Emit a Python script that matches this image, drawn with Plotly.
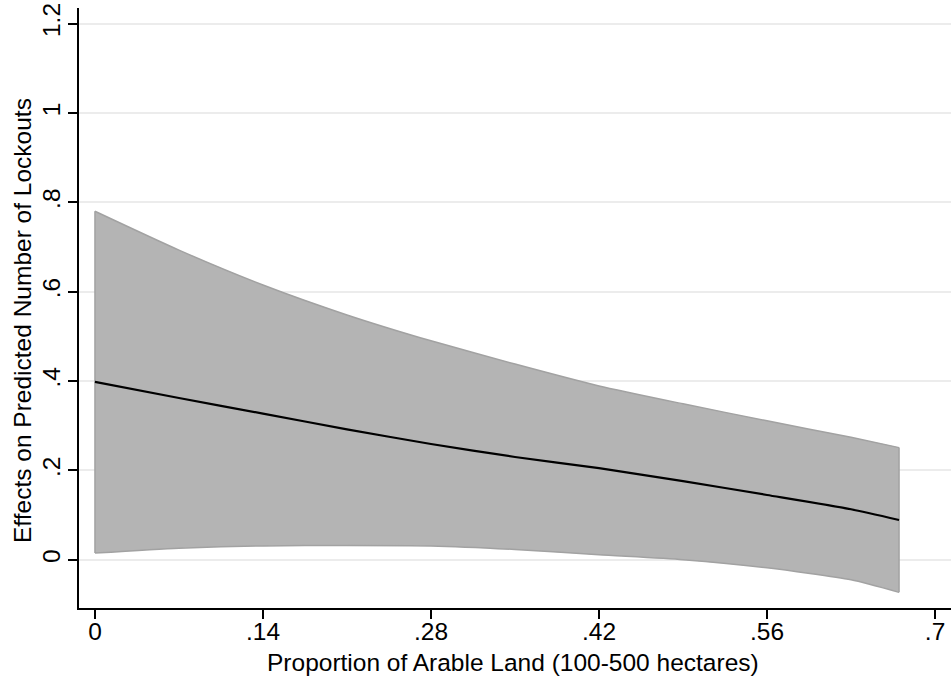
import plotly.graph_objects as go

x_vals = [0.0, 0.07, 0.14, 0.21, 0.28, 0.35, 0.42, 0.49, 0.56, 0.63, 0.67]
upper = [0.780, 0.693, 0.615, 0.548, 0.490, 0.438, 0.389, 0.349, 0.311, 0.274, 0.251]
effect = [0.398, 0.362, 0.327, 0.292, 0.259, 0.230, 0.205, 0.176, 0.145, 0.113, 0.089]
lower = [0.015, 0.026, 0.031, 0.032, 0.031, 0.023, 0.011, 0.000, -0.018, -0.045, -0.073]

x_ticks = [0, 0.14, 0.28, 0.42, 0.56, 0.7]
x_ticklabels = ["0", ".14", ".28", ".42", ".56", ".7"]
y_ticks = [0, 0.2, 0.4, 0.6, 0.8, 1.0, 1.2]
y_ticklabels = ["0", ".2", ".4", ".6", ".8", "1", "1.2"]

x_title = "Proportion of Arable Land (100-500 hectares)"
y_title = "Effects on Predicted Number of Lockouts"

font_family = "Liberation Sans, Arial, Helvetica, sans-serif"
fs = 24.5

fig = go.Figure()
fig.add_trace(go.Scatter(
    x=x_vals, y=lower, mode="lines",
    line=dict(color="#a2a2a2", width=1.5, shape="spline", smoothing=0.6),
    hoverinfo="skip", showlegend=False,
))
fig.add_trace(go.Scatter(
    x=x_vals, y=upper, mode="lines", fill="tonexty", fillcolor="#b4b4b4",
    line=dict(color="#a2a2a2", width=1.5, shape="spline", smoothing=0.6),
    hoverinfo="skip", showlegend=False,
))
fig.add_trace(go.Scatter(
    x=[x_vals[-1], x_vals[-1]], y=[lower[-1], upper[-1]], mode="lines",
    line=dict(color="#a2a2a2", width=1.5),
    hoverinfo="skip", showlegend=False,
))
fig.add_trace(go.Scatter(
    x=[x_vals[0], x_vals[0]], y=[lower[0], upper[0]], mode="lines",
    line=dict(color="#a2a2a2", width=1.5),
    hoverinfo="skip", showlegend=False,
))
fig.add_trace(go.Scatter(
    x=x_vals, y=effect, mode="lines",
    line=dict(color="black", width=2.2, shape="spline", smoothing=0.6),
    showlegend=False,
))

fig.update_layout(
    width=951, height=684,
    margin=dict(l=79, r=0, t=8, b=76),
    paper_bgcolor="white", plot_bgcolor="white",
    font=dict(family=font_family, size=fs, color="black"),
    xaxis=dict(
        range=[-0.0133, 0.7133],
        tickvals=x_ticks, ticktext=x_ticklabels,
        ticks="outside", ticklen=9, tickwidth=1.5, tickcolor="black",
        ticklabelstandoff=-8,
        showline=True, linecolor="black", linewidth=1.5,
        showgrid=False, zeroline=False,
        tickfont=dict(size=fs),
    ),
    yaxis=dict(
        range=[-0.108, 1.235],
        tickvals=y_ticks, ticktext=y_ticklabels,
        tickangle=-90,
        ticks="outside", ticklen=9, tickwidth=1.5, tickcolor="black",
        ticklabelstandoff=-2,
        showline=True, linecolor="black", linewidth=1.5,
        showgrid=True, gridcolor="#ececec", gridwidth=1.5,
        zeroline=False,
        tickfont=dict(size=fs),
    ),
    annotations=[
        dict(text=x_title, xref="paper", yref="paper", x=0.498, y=-0.09,
             xanchor="center", yanchor="middle", showarrow=False,
             font=dict(size=fs)),
        dict(text=y_title, xref="paper", yref="paper", x=-0.0654, y=0.48,
             xanchor="center", yanchor="middle", showarrow=False, textangle=-90,
             font=dict(size=fs)),
    ],
)

fig.write_html("out.html", config={"displayModeBar": False},
               post_script="document.body.style.margin='0px';document.body.style.overflow='hidden';")
